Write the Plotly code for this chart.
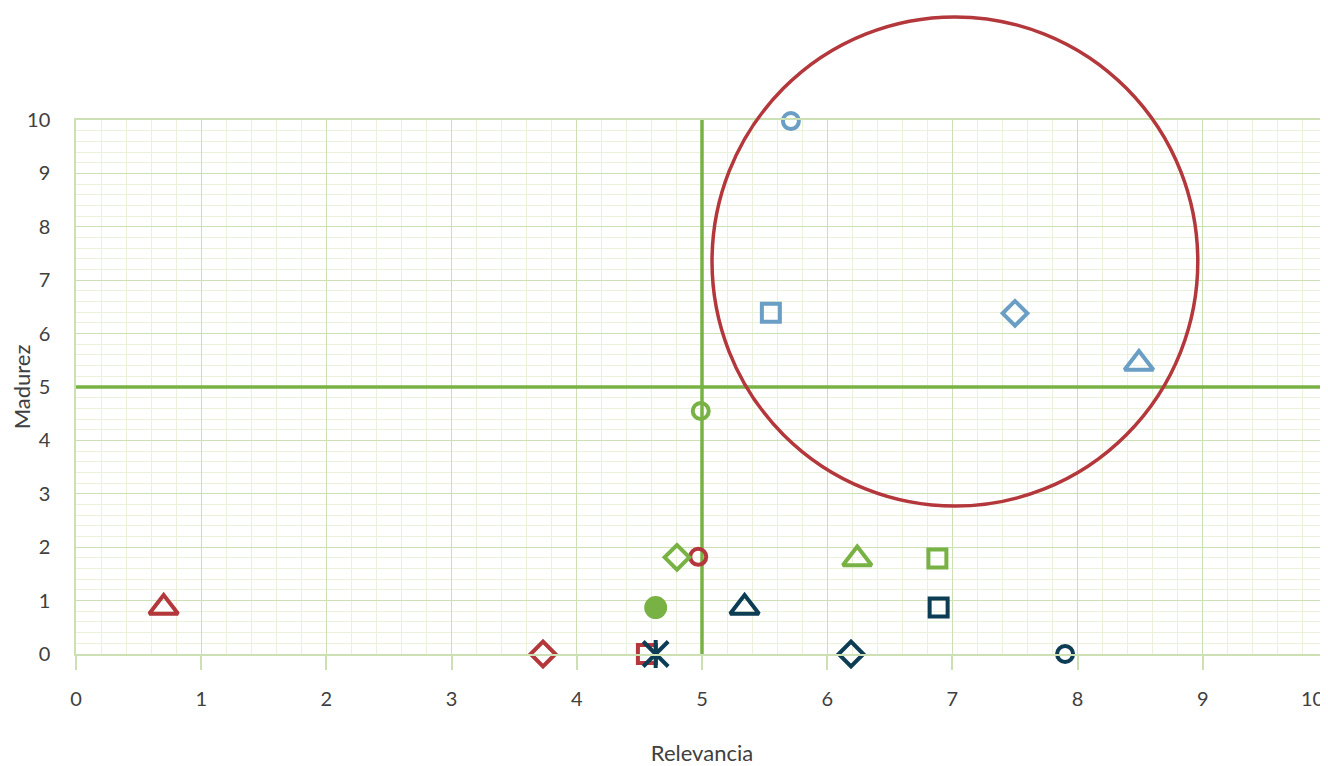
import plotly.graph_objects as go

# ----------------------------------------------------------
# data (Relevancia, Madurez)
# ----------------------------------------------------------
red_x = [0.70, 3.73, 4.56, 4.97]
red_y = [0.87, 0.0, 0.0, 1.82]

green_x = [4.80, 4.99, 6.24, 6.88, 4.63]
green_y = [1.81, 4.55, 1.78, 1.79, 0.87]

navy_x = [5.34, 6.89, 6.19, 7.90]
navy_y = [0.87, 0.87, 0.0, 0.0]
star_x = [4.63]
star_y = [0.0]

blue_x = [5.71, 5.55, 7.50, 8.49]
blue_y = [9.98, 6.39, 6.38, 5.44]

# thresholds and highlighted zone (centre, radii)
limit_x = 5
limit_y = 5
zone_cx, zone_cy = 7.02, 7.35
zone_rx, zone_ry = 1.94, 4.58

x_ticks = list(range(0, 11))
x_tick_text = [str(v) for v in range(0, 10)] + [""]
y_ticks = list(range(0, 11))

# ----------------------------------------------------------
# styles
# ----------------------------------------------------------
RED = "#b3373b"
GREEN = "#78b244"
NAVY = "#0d3c55"
BLUE = "#6a9ec4"
GRID = "#cde0b3"
MINOR = "#ebf2dc"
TEXT = "#404040"
FONT = "Lato"

SIZE = {"circle-open": 16, "circle": 19, "square-open": 18,
        "diamond-open": 19, "triangle-up-open": 25}

red_sym = ["triangle-up-open", "diamond-open", "square-open", "circle-open"]
green_sym = ["diamond-open", "circle-open", "triangle-up-open", "square-open", "circle"]
navy_sym = ["triangle-up-open", "square-open", "diamond-open", "circle-open"]
blue_sym = ["circle-open", "square-open", "diamond-open", "triangle-up-open"]

X_MIN, X_MAX = 0, 10
Y_MIN, Y_MAX = 0, 10


def group(x, y, syms, color):
    return go.Scatter(
        x=x, y=y, mode="markers", cliponaxis=False, showlegend=False,
        marker=dict(symbol=syms, size=[SIZE[s] for s in syms], color=color, opacity=1,
                    line=dict(color=color, width=4)),
    )


fig = go.Figure()

# quadrant lines (as traces so they sit above the grid, below the markers)
fig.add_trace(go.Scatter(x=[limit_x, limit_x], y=[Y_MIN, Y_MAX], mode="lines",
                         line=dict(color=GREEN, width=3.5), showlegend=False, hoverinfo="skip"))
fig.add_trace(go.Scatter(x=[X_MIN, X_MAX], y=[limit_y, limit_y], mode="lines",
                         line=dict(color=GREEN, width=3.5), showlegend=False, hoverinfo="skip"))

fig.add_trace(group(red_x, red_y, red_sym, RED))
fig.add_trace(group(green_x, green_y, green_sym, GREEN))
fig.add_trace(group(navy_x, navy_y, navy_sym, NAVY))
fig.add_trace(group(blue_x, blue_y, blue_sym, BLUE))

# star marker = X + vertical stroke
for sym, sz in (("x-thin-open", 25), ("line-ns-open", 20)):
    fig.add_trace(go.Scatter(
        x=star_x, y=star_y, mode="markers", cliponaxis=False, showlegend=False,
        marker=dict(symbol=sym, size=sz, color=NAVY, opacity=1,
                    line=dict(color=NAVY, width=4)),
    ))

# highlighted zone (domain refs so it is not clipped above the plot)
fig.add_shape(
    type="circle", xref="x domain", yref="y domain",
    x0=(zone_cx - zone_rx - X_MIN) / (X_MAX - X_MIN),
    x1=(zone_cx + zone_rx - X_MIN) / (X_MAX - X_MIN),
    y0=(zone_cy - zone_ry - Y_MIN) / (Y_MAX - Y_MIN),
    y1=(zone_cy + zone_ry - Y_MIN) / (Y_MAX - Y_MIN),
    line=dict(color=RED, width=3.5), layer="above",
)

axis_font = dict(family=FONT, size=20, color=TEXT)
title_font = dict(family=FONT, size=22, color=TEXT)

# last x tick label sits at the very edge of the page: keep it inside
fig.add_annotation(
    text=str(x_ticks[-1]), x=x_ticks[-1], xref="x", y=0, yref="y domain",
    xanchor="right", yanchor="top", xshift=-2, yshift=-30,
    showarrow=False, font=axis_font,
)

fig.update_layout(
    width=1320, height=758,
    margin=dict(l=68, r=0, t=112, b=112),
    plot_bgcolor="white", paper_bgcolor="white",
    font=axis_font,
    xaxis=dict(
        range=[X_MIN, X_MAX], tickvals=x_ticks, ticktext=x_tick_text, automargin=False,
        showgrid=True, gridcolor=GRID, gridwidth=1,
        minor=dict(dtick=0.2, showgrid=True, gridcolor=MINOR, gridwidth=1),
        ticks="outside", ticklen=14, tickcolor=GRID, tickwidth=1.5,
        showline=True, linecolor=GRID, linewidth=1.5, mirror=True, zeroline=False,
        tickfont=axis_font, ticklabelstandoff=12,
        title=dict(text="Relevancia", font=title_font, standoff=52),
    ),
    yaxis=dict(
        range=[Y_MIN, Y_MAX], tickvals=y_ticks, automargin=False,
        showgrid=True, gridcolor=GRID, gridwidth=1,
        minor=dict(dtick=0.2, showgrid=True, gridcolor=MINOR, gridwidth=1),
        ticks="", showline=True, linecolor=GRID, linewidth=1.5, mirror=True, zeroline=False,
        tickfont=axis_font, ticklabelstandoff=20,
        title=dict(text="Madurez", font=title_font, standoff=8),
    ),
)

fig.write_html("out.html")
